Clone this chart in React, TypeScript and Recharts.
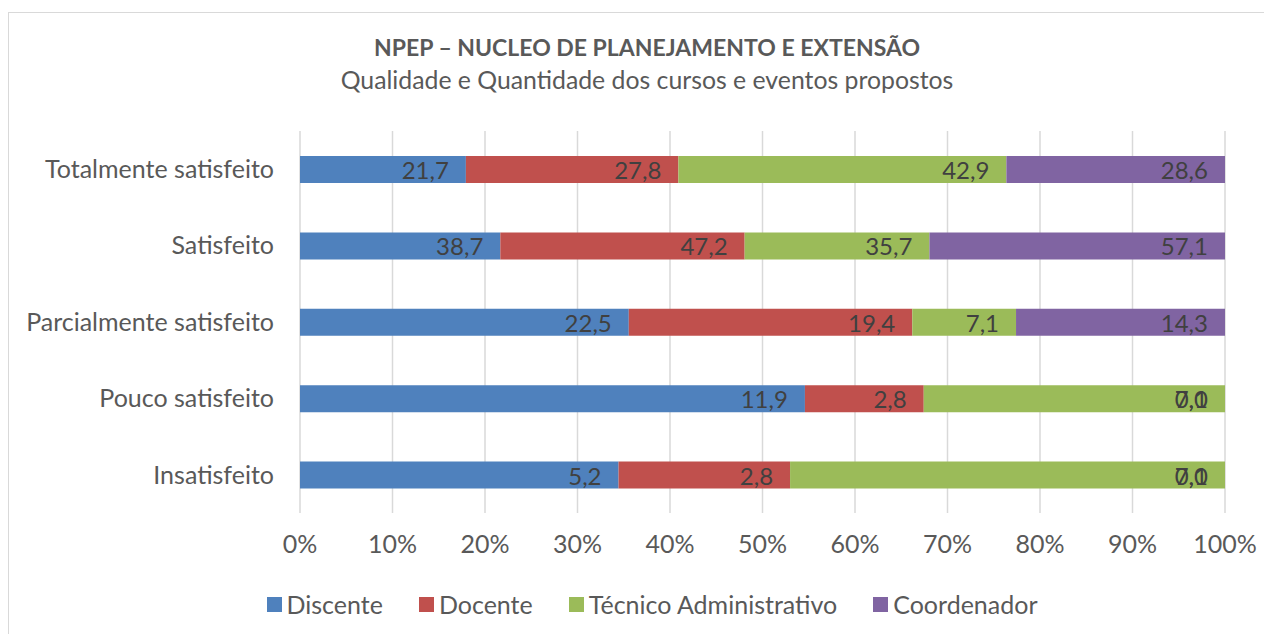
import React from "react";
import { BarChart, Bar, XAxis, YAxis, CartesianGrid, Legend, LabelList } from "recharts";

const categories = ["Totalmente satisfeito", "Satisfeito", "Parcialmente satisfeito", "Pouco satisfeito", "Insatisfeito"];
const discente = [21.7, 38.7, 22.5, 11.9, 5.2];
const docente = [27.8, 47.2, 19.4, 2.8, 2.8];
const tecnico = [42.9, 35.7, 7.1, 7.1, 7.1];
const coordenador = [28.6, 57.1, 14.3, 0.0, 0.0];
const xTicks = [0, 0.1, 0.2, 0.3, 0.4, 0.5, 0.6, 0.7, 0.8, 0.9, 1];

const data = categories.map((name, i) => ({
  name,
  discente: discente[i],
  docente: docente[i],
  tecnico: tecnico[i],
  coordenador: coordenador[i],
}));

const FONT = "Lato, 'Noto Sans', sans-serif";
const GREY = "#595959";
const series = [
  { key: "discente", label: "Discente", color: "#4F81BD" },
  { key: "docente", label: "Docente", color: "#C0504D" },
  { key: "tecnico", label: "Técnico Administrativo", color: "#9BBB59" },
  { key: "coordenador", label: "Coordenador", color: "#8064A2" },
];

const fmt = (v: any) => Number(v).toFixed(1).replace(".", ",");

// value labels drawn at the inner right end of each segment (also for 0-width ones)
const renderValue = (props: any) => {
  const { x, y, width, height, value } = props;
  if (value == null) return null;
  const w = Number(value) === 0 ? 0 : Number(width);
  return (
    <text
      x={Number(x) + w - 17}
      y={Number(y) + Number(height) / 2}
      textAnchor="end"
      dominantBaseline="central"
      fill="#404040"
      fontSize={24}
      fontFamily={FONT}
    >
      {fmt(value)}
    </text>
  );
};

const LegendContent = () => (
  <div style={{ display: "flex", justifyContent: "center", alignItems: "center", gap: 36, paddingLeft: 70, fontFamily: FONT }}>
    {series.map((s) => (
      <div key={s.key} style={{ display: "flex", alignItems: "center" }}>
        <span style={{ width: 15, height: 15, background: s.color, display: "inline-block", marginRight: 5 }} />
        <span style={{ color: GREY, fontSize: 25 }}>{s.label}</span>
      </div>
    ))}
  </div>
);

export default function App() {
  return (
    <div
      style={{
        position: "relative",
        width: 1264,
        height: 622,
        marginTop: 4,
        borderTop: "1px solid #d9d9d9",
        borderLeft: "1px solid #d9d9d9",
        boxSizing: "border-box",
        fontFamily: FONT,
        color: GREY,
      }}
    >
      <div style={{ position: "absolute", left: 0, width: 1276, top: 20, textAlign: "center", fontSize: 23, fontWeight: 700 }}>
        NPEP – NUCLEO DE PLANEJAMENTO E EXTENSÃO
      </div>
      <div style={{ position: "absolute", left: 0, width: 1276, top: 52, textAlign: "center", fontSize: 24.8 }}>
        Qualidade e Quantidade dos cursos e eventos propostos
      </div>
      <BarChart
        width={1263}
        height={621}
        data={data}
        layout="vertical"
        stackOffset="expand"
        barSize={27}
        margin={{ top: 118, right: 47, bottom: 15, left: 0 }}
        style={{ fontFamily: FONT }}
      >
        <CartesianGrid horizontal={false} stroke="#d9d9d9" strokeWidth={1.5} />
        <XAxis
          type="number"
          domain={[0, 1]}
          ticks={xTicks}
          tickFormatter={(v) => `${Math.round(v * 100)}%`}
          axisLine={false}
          tickLine={false}
          tick={{ fill: GREY, fontSize: 25 }}
          tickMargin={16}
          height={76}
        />
        <YAxis
          type="category"
          dataKey="name"
          axisLine={false}
          tickLine={false}
          tick={{ fill: GREY, fontSize: 25 }}
          tickMargin={20}
          width={291}
        />
        <Legend verticalAlign="bottom" height={30} content={LegendContent} />
        {series.map((s) => (
          <Bar
            key={s.key}
            dataKey={s.key}
            name={s.label}
            stackId="a"
            fill={s.color}
            minPointSize={s.key === "coordenador" ? 0.01 : 0}
            isAnimationActive={false}
          >
            <LabelList dataKey={s.key} content={renderValue} />
          </Bar>
        ))}
      </BarChart>
    </div>
  );
}
